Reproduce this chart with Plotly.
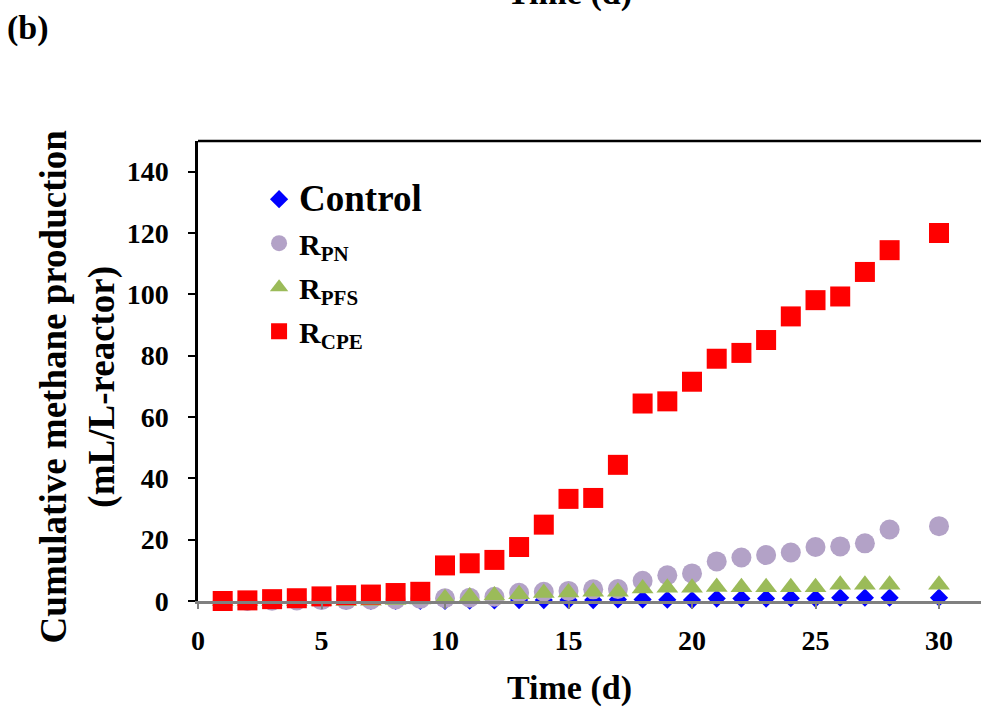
import plotly.graph_objects as go

days = [1, 2, 3, 4, 5, 6, 7, 8, 9, 10, 11, 12, 13, 14, 15, 16, 17, 18, 19, 20,
        21, 22, 23, 24, 25, 26, 27, 28, 30]
control = [0, 0, 0, 0, 0, 0, 0, 0, 0, 0, 0.1, 0.2, 0.3, 0.3, 0.3, 0.3, 0.5, 0.5,
           0.4, 0.3, 0.8, 0.8, 0.8, 0.9, 0.8, 1.1, 1.1, 1.1, 1.1]
r_pn = [0, 0, 0.1, 0.2, 0.3, 0.3, 0.4, 0.5, 0.7, 0.9, 1.1, 1.4, 2.7, 3.0, 3.3,
        3.8, 3.9, 6.6, 8.4, 9.0, 12.9, 14.2, 15.0, 15.8, 17.6, 17.8, 18.8, 23.3, 24.4]
r_pfs = [0, 0, 0, 0, 0, 0, 0.1, 0.3, 0.5, 0.9, 1.5, 1.8, 2.2, 2.6, 2.8, 3.0, 3.0,
         4.1, 4.3, 4.3, 4.6, 4.5, 4.5, 4.5, 4.5, 5.3, 5.3, 5.3, 5.3]
r_cpe = [0.0, 0.2, 0.6, 0.9, 1.5, 1.9, 2.1, 2.6, 3.0, 11.6, 12.3, 13.4, 17.6, 24.9,
         33.3, 33.6, 44.4, 64.4, 65.1, 71.5, 79.0, 80.9, 85.1, 92.8, 98.1, 99.3,
         107.3, 114.4, 120.0]

series_names = ["<span style='font-size:37px'>Control</span>",
                "R<sub>PN</sub>", "R<sub>PFS</sub>", "R<sub>CPE</sub>"]
series_values = [control, r_pn, r_pfs, r_cpe]
colors = ["#0000FF", "#B3A2C7", "#9BBB59", "#FF0000"]
symbols = ["diamond", "circle", "triangle-up", "square"]
sizes = [14, 20, 19, 20]

FONT = "Liberation Serif"

fig = go.Figure()
for i, (nm, vals) in enumerate(zip(series_names, series_values)):
    fig.add_trace(go.Scatter(
        x=days, y=vals, mode="markers", name=nm,
        legendgroup=str(i),
        marker=dict(symbol=symbols[i], color=colors[i], size=sizes[i],
                    line=dict(width=0)),
        cliponaxis=False,
    ))

fig.update_layout(
    width=981, height=709,
    margin=dict(l=198, r=0, t=141, b=108),
    paper_bgcolor="white", plot_bgcolor="white",
    font=dict(family=FONT, color="black"),
    showlegend=True,
    legend=dict(x=0.078, y=0.93, xanchor="left", yanchor="top",
                font=dict(family=FONT, size=30, color="black", weight="bold"),
                bgcolor="rgba(0,0,0,0)", tracegroupgap=2,
                itemsizing="trace"),
    xaxis=dict(range=[0, 31.7], tickmode="linear", tick0=0, dtick=5,
               showgrid=False, zeroline=False,
               showline=True, linecolor="#808080", linewidth=2.5,
               ticks="outside", ticklen=5, tickwidth=2, tickcolor="#808080",
               tickfont=dict(family=FONT, size=28, color="black", weight="bold"),
               ticklabelstandoff=8),
    yaxis=dict(range=[0, 150], tickmode="array",
               tickvals=[0, 20, 40, 60, 80, 100, 120, 140],
               showgrid=False, zeroline=False,
               showline=True, linecolor="black", linewidth=2.5,
               ticks="outside", ticklen=7, tickwidth=2, tickcolor="black",
               tickfont=dict(family=FONT, size=28, color="black", weight="bold"),
               ticklabelstandoff=14),
)

# top border of the plot area
fig.add_shape(type="line", xref="paper", yref="paper", x0=0, x1=1, y0=1, y1=1,
              line=dict(color="black", width=2.5))

# axis titles
fig.add_annotation(text="<b>Time (d)</b>", xref="paper", yref="paper",
                   x=0.475, y=-0.19, xanchor="center", yanchor="middle",
                   showarrow=False, font=dict(family=FONT, size=34, color="black"))
fig.add_annotation(text="<b>Cumulative methane production</b><br><b>(mL/L-reactor)</b>",
                   xref="paper", yref="paper",
                   x=-0.153, y=0.467, xanchor="center", yanchor="middle",
                   textangle=-90, showarrow=False,
                   font=dict(family=FONT, size=37, color="black"))
# panel label and cropped title from panel above
fig.add_annotation(text="<b>(b)</b>", xref="paper", yref="paper",
                   x=-0.247, y=1.246, xanchor="left", yanchor="middle",
                   showarrow=False, font=dict(family=FONT, size=34, color="black"))
fig.add_annotation(text="<b>Time (d)</b>", xref="paper", yref="paper",
                   x=0.475, y=1.322, xanchor="center", yanchor="middle",
                   showarrow=False, font=dict(family=FONT, size=34, color="black"))

fig.write_html("out.html")
